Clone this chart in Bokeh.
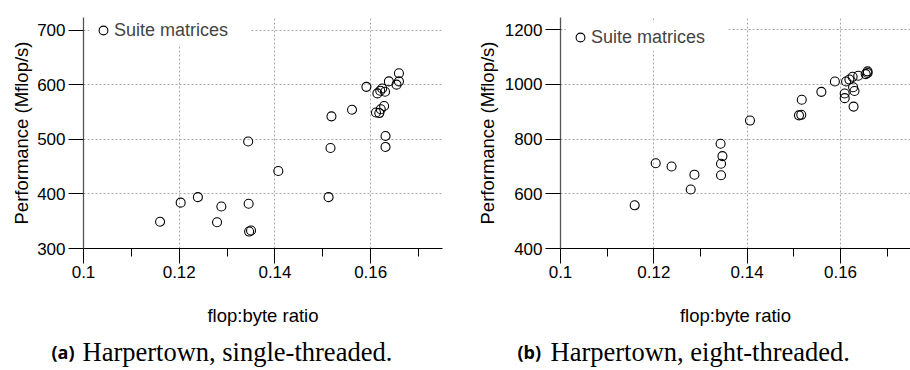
from bokeh.plotting import figure
from bokeh.layouts import row, column
from bokeh.models import FixedTicker, Range1d, Legend, LegendItem
from bokeh.core.properties import value
from bokeh.embed import file_html
from bokeh.resources import INLINE

# ---------------- data ----------------
x_ticks = [0.1, 0.12, 0.14, 0.16]
x_tick_labels = ["0.1", "0.12", "0.14", "0.16"]
x_minor = [0.11, 0.13, 0.15, 0.17]
x_limits = (0.1, 0.175)

# (a) Harpertown, single-threaded
ratio_a = [0.1160, 0.1203, 0.1239, 0.1279, 0.1288, 0.1344, 0.1345, 0.1346, 0.1350,
           0.1407, 0.1512, 0.1516, 0.1518, 0.1561, 0.1591, 0.1611, 0.1618, 0.1621,
           0.1628, 0.1614, 0.1620, 0.1624, 0.1630, 0.1638, 0.1654, 0.1659, 0.1659,
           0.1631, 0.1631]
perf_a = [349, 384, 394, 348, 377, 496, 382, 331, 333,
          442, 394, 484, 542, 554, 596, 549, 548, 555,
          561, 584, 589, 593, 587, 606, 600, 606, 621,
          506, 486]
y_ticks_a = [300, 400, 500, 600, 700]
y_limits_a = (300, 723)

# (b) Harpertown, eight-threaded
ratio_b = [0.1159, 0.1204, 0.1238, 0.1279, 0.1287, 0.1343, 0.1347, 0.1344, 0.1344,
           0.1406, 0.1511, 0.1516, 0.1517, 0.1559, 0.1588, 0.1609, 0.1609, 0.1612,
           0.1619, 0.1627, 0.1626, 0.1630, 0.1628, 0.1638, 0.1654, 0.1658, 0.1658]
perf_b = [558, 712, 700, 616, 670, 783, 738, 710, 668,
          868, 887, 889, 944, 973, 1011, 967, 950, 1011,
          1018, 990, 1028, 976, 919, 1032, 1038, 1048, 1042]
y_ticks_b = [400, 600, 800, 1000, 1200]
y_limits_b = (400, 1245)

series_label = "Suite matrices"
x_title = "flop:byte ratio"
y_title = "Performance (Mflop/s)"
caption_tags = ["(a)", "(b)"]
caption_texts = ["Harpertown, single-threaded.", "Harpertown, eight-threaded."]

SANS = "Liberation Sans"
SERIF = "Liberation Serif"
W = 455
PANEL_H = 333          # chart panels
CAP_H = 370 - PANEL_H  # caption strip below
FRAME_BOTTOM = 248


def panel(xs, ys, yticks, ylim, bl, br, bt, ylab_standoff):
    p = figure(width=W, height=PANEL_H, output_backend="svg", toolbar_location=None,
               x_range=Range1d(*x_limits), y_range=Range1d(*ylim),
               min_border_left=bl, min_border_right=br, min_border_top=bt,
               min_border_bottom=PANEL_H - FRAME_BOTTOM,
               background_fill_color="white", border_fill_color="white")
    p.outline_line_color = None

    r = p.scatter(xs, ys, marker="circle", size=9, fill_color=None,
                  line_color="black", line_width=1.1)

    xa = p.xaxis[0]
    xa.ticker = FixedTicker(ticks=x_ticks, minor_ticks=x_minor)
    xa.major_label_overrides = {t: l for t, l in zip(x_ticks, x_tick_labels)}
    xa.axis_line_color = "black"
    xa.major_tick_out = 15
    xa.major_tick_in = 0
    xa.minor_tick_out = 8
    xa.minor_tick_in = 0
    xa.major_label_standoff = 2
    xa.axis_label = x_title
    xa.axis_label_standoff = 24

    ya = p.yaxis[0]
    ya.ticker = FixedTicker(ticks=yticks, minor_ticks=[])
    ya.axis_line_color = "#555555"
    ya.axis_line_width = 1.3
    ya.major_tick_out = 15
    ya.major_tick_in = 0
    ya.major_label_standoff = 3
    ya.axis_label = y_title
    ya.axis_label_standoff = ylab_standoff

    for ax in (xa, ya):
        ax.major_label_text_font = SANS
        ax.major_label_text_font_size = "17px"
        ax.major_label_text_color = "black"
        ax.axis_label_text_font = SANS
        ax.axis_label_text_font_size = "18.5px"
        ax.axis_label_text_font_style = "normal"
        ax.axis_label_text_color = "black"
        ax.major_tick_line_color = "black"
        ax.minor_tick_line_color = "black"

    p.xgrid.ticker = FixedTicker(ticks=x_ticks[1:])
    p.ygrid.ticker = FixedTicker(ticks=yticks[1:])
    for g in (p.xgrid, p.ygrid):
        g.grid_line_color = "#a8a8a8"
        g.grid_line_dash = "2 2"
        g.grid_line_width = 1

    frame_h = FRAME_BOTTOM - bt
    leg = Legend(items=[LegendItem(label=series_label, renderers=[r])],
                 location=(6, frame_h - 6 - 28),
                 glyph_width=22, glyph_height=22, padding=3, spacing=0,
                 label_standoff=0, label_width=133, label_height=20,
                 margin=0,
                 label_text_font=SANS, label_text_font_size="18px",
                 background_fill_color="white", background_fill_alpha=1.0,
                 border_line_alpha=0)
    p.add_layout(leg)
    return p


p1 = panel(ratio_a, perf_a, y_ticks_a, y_limits_a, 83, 13, 10, 2)
p2 = panel(ratio_b, perf_b, y_ticks_b, y_limits_b, 105, 0, 17, 4)

# caption strip: x/y in pixels of the strip
cap = figure(width=2 * W, height=CAP_H, output_backend="svg", toolbar_location=None,
             x_range=Range1d(0, 2 * W), y_range=Range1d(0, CAP_H),
             x_axis_type=None, y_axis_type=None, min_border=0,
             background_fill_color="white", border_fill_color="white")
cap.outline_line_color = None
cap.grid.visible = False
baseline = 370 - 351
cap.text(x=[51, W + 62], y=[baseline, baseline], text=caption_tags,
         text_font=value("Open Sans"), text_font_style="bold", text_font_size="18px",
         text_baseline="alphabetic", text_color="black")
cap.text(x=[82, W + 95], y=[baseline, baseline], text=caption_texts,
         text_font=value(SERIF), text_font_size="26.5px",
         text_baseline="alphabetic", text_color="black")

layout = column(row(p1, p2, spacing=0), cap, spacing=0)
open("out.html", "w").write(file_html(layout, INLINE))
